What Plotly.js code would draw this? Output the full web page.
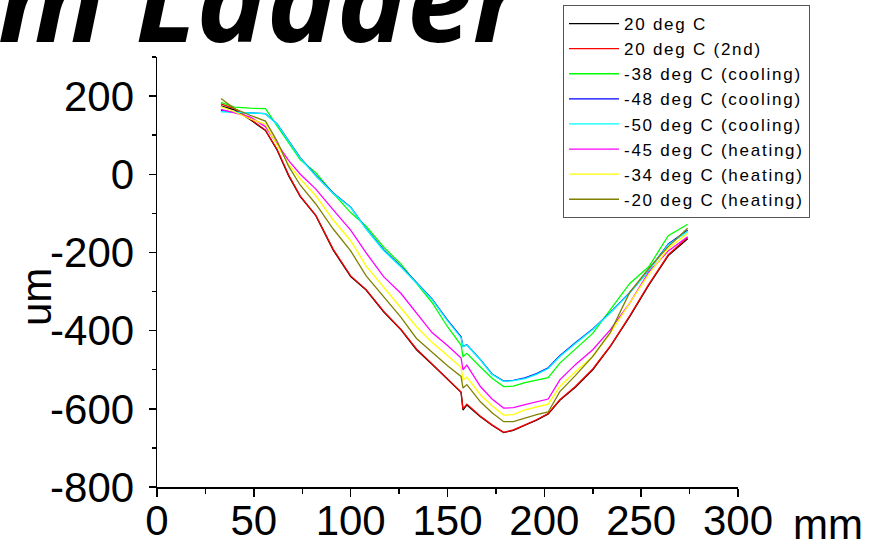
<!DOCTYPE html>
<html>
<head>
<meta charset="utf-8">
<script src="https://cdn.plot.ly/plotly-3.0.1.min.js"></script>
<style>
html,body{margin:0;padding:0;background:#fff;}
#chart{width:875px;height:549px;}
.legendtext{letter-spacing:1.75px;}
</style>
</head>
<body>
<div id="chart"></div>
<script>
// Position along the ladder (mm)
const xMm = [33, 40, 48, 56, 62, 68, 74, 82, 91, 100, 108, 117, 126, 134, 142, 150, 157, 158, 160, 167, 173, 179, 184, 190, 196, 202, 208, 216, 225, 234, 244, 254, 264, 274];

const names = ["20 deg C", "20 deg C (2nd)", "-38 deg C (cooling)", "-48 deg C (cooling)", "-50 deg C (cooling)", "-45 deg C (heating)", "-34 deg C (heating)", "-20 deg C (heating)"];
const colors = ["#000000", "#ff0000", "#00ff00", "#0000ff", "#00ffff", "#ff00ff", "#ffff00", "#808000"];

// Deflection (um)
const y20 = [175, 165, 140, 112, 62, -4, -57, -106, -194, -262, -296, -352, -398, -449, -486, -525, -558, -603, -590, -620, -642, -661, -655, -642, -629, -613, -578, -545, -500, -441, -365, -283, -208, -165];
const y20b = [180, 168, 142, 113, 64, -2, -56, -105, -192, -260, -295, -350, -397, -447, -485, -524, -557, -600, -588, -619, -641, -660, -654, -641, -628, -612, -577, -543, -498, -440, -363, -281, -206, -162];
const yM38 = [184, 172, 169, 168, 124, 82, 37, 4, -49, -98, -133, -186, -230, -279, -328, -390, -437, -466, -458, -493, -522, -543, -542, -533, -526, -520, -483, -447, -407, -347, -280, -236, -157, -128];
const yM48 = [163, 159, 157, 155, 129, 86, 42, -3, -48, -84, -139, -193, -236, -277, -319, -373, -416, -440, -436, -474, -511, -529, -527, -521, -510, -495, -464, -431, -396, -354, -303, -245, -178, -143];
const yM50 = [160, 158, 157, 155, 128, 85, 41, -4, -49, -85, -140, -195, -237, -278, -320, -375, -418, -441, -437, -475, -512, -530, -528, -523, -512, -497, -466, -433, -397, -355, -304, -246, -180, -146];
const yM45 = [166, 158, 147, 122, 80, 35, 0, -38, -91, -143, -201, -262, -305, -355, -405, -438, -470, -500, -488, -543, -575, -598, -597, -589, -582, -575, -526, -487, -449, -398, -330, -250, -196, -160];
const yM34 = [173, 160, 142, 128, 75, 25, -12, -55, -117, -170, -235, -288, -340, -390, -430, -465, -494, -526, -519, -564, -592, -616, -615, -603, -595, -588, -543, -505, -466, -407, -330, -255, -190, -151];
const yM20 = [194, 168, 151, 136, 85, 20, -28, -76, -140, -196, -260, -314, -366, -420, -456, -490, -517, -547, -538, -582, -610, -633, -633, -624, -615, -608, -556, -515, -466, -405, -303, -240, -185, -138];

const ySeries = [y20, y20b, yM38, yM48, yM50, yM45, yM34, yM20];

const xTickVals = [0, 50, 100, 150, 200, 250, 300];
const yTickVals = [-800, -600, -400, -200, 0, 200];

const traces = ySeries.map((ys, i) => ({
  type: "scatter", mode: "lines", x: xMm, y: ys, name: names[i],
  line: {color: colors[i], width: 1.3}
}));

const W = 875, H = 549, L = 157, R = 137, T = 57, B = 62;
const pw = W - L - R, ph = H - T - B;
const px = v => (v - L) / pw;
const py = v => (H - B - v) / ph;

const axisFont = {family: "Liberation Sans, Arial, sans-serif", size: 42, color: "#000"};

const layout = {
  width: W, height: H,
  margin: {l: L, r: R, t: T, b: B, pad: 0, autoexpand: false},
  paper_bgcolor: "#fff", plot_bgcolor: "#fff",
  showlegend: true,
  legend: {
    x: px(563), y: py(5), xanchor: "left", yanchor: "top",
    bgcolor: "#fff", bordercolor: "#555", borderwidth: 1,
    font: {family: "Liberation Sans, Arial, sans-serif", size: 17, color: "#000"},
    tracegroupgap: 0, itemwidth: 50
  },
  xaxis: {
    range: [0, 300], tickvals: xTickVals, ticktext: xTickVals.map(String),
    ticks: "outside", ticklen: 8, tickwidth: 1.5, tickcolor: "#000",
    minor: {dtick: 25, tick0: 0, ticks: "outside", ticklen: 5, tickwidth: 1.5, tickcolor: "#000"},
    showline: true, linecolor: "#000", linewidth: 1.5, mirror: false,
    showgrid: false, zeroline: false, tickfont: axisFont, fixedrange: true,
    ticklabelstandoff: -12
  },
  yaxis: {
    range: [-800, 300], tickvals: yTickVals, ticktext: yTickVals.map(String),
    ticks: "outside", ticklen: 7, tickwidth: 1.5, tickcolor: "#000",
    minor: {dtick: 100, tick0: 0, ticks: "outside", ticklen: 4, tickwidth: 1.5, tickcolor: "#000"},
    showline: true, linecolor: "#000", linewidth: 1.5, mirror: false,
    showgrid: false, zeroline: false, tickfont: axisFont, fixedrange: true,
    ticklabelstandoff: 6
  },
  annotations: [
    {text: "m Ladder", xref: "paper", yref: "paper", x: px(530), y: py(79),
     xanchor: "right", yanchor: "bottom", showarrow: false,
     font: {family: "Open Sans, sans-serif", size: 118, weight: 700, style: "italic", color: "#000"}},
    {text: "um", xref: "paper", yref: "paper", x: px(36), y: py(297),
     xanchor: "center", yanchor: "middle", textangle: -90, showarrow: false, font: axisFont},
    {text: "mm", xref: "paper", yref: "paper", x: px(828), y: py(524),
     xanchor: "center", yanchor: "middle", showarrow: false, font: axisFont}
  ]
};

Plotly.newPlot("chart", traces, layout, {displayModeBar: false, staticPlot: true});
</script>
</body>
</html>
